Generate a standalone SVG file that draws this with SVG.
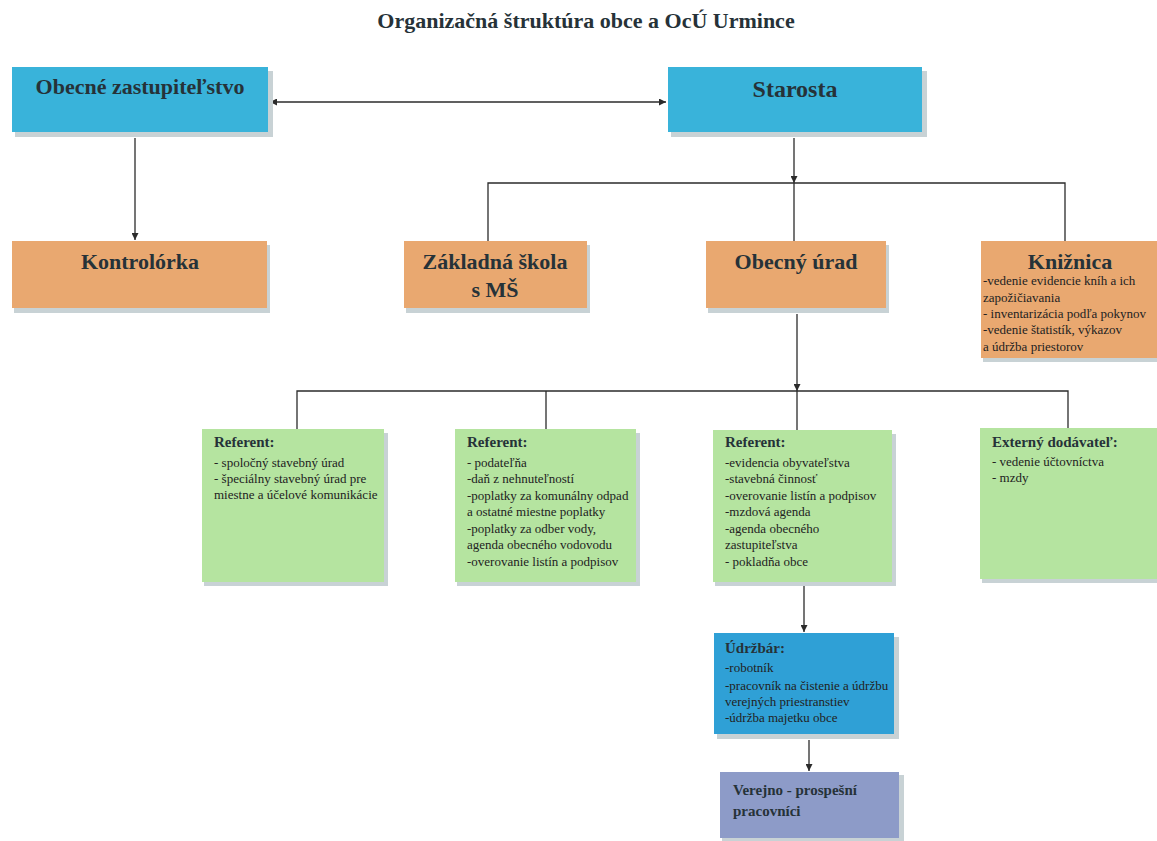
<svg xmlns="http://www.w3.org/2000/svg" width="1157" height="841" viewBox="0 0 1157 841">
<defs>
<marker id="arr" viewBox="0 0 10 10" refX="10" refY="5" markerWidth="7" markerHeight="7" markerUnits="userSpaceOnUse" orient="auto-start-reverse">
<path d="M0,0 L10,5 L0,10 z" fill="#2b2b2b"/>
</marker>
<style>
.bg{fill:#ffffff}
.sh{fill:#c8d2d5}
.blue{fill:#39B3DA}
.orange{fill:#E9A870}
.green{fill:#B5E4A0}
.dblue{fill:#2FA0D6}
.purple{fill:#8D9BC8}
.ttl{font-family:"Liberation Serif","Times New Roman",serif;font-weight:bold;fill:#263238}
.big{font-size:22px;text-anchor:middle}
.hd{font-size:15px}
.sm{font-family:"Liberation Serif","Times New Roman",serif;font-size:13px;fill:#222222}
.ln{stroke:#2b2b2b;stroke-width:1.3;fill:none}
</style>
</defs>
<rect class="bg" x="0" y="0" width="1157" height="841"/>
<text x="586" y="28" class="ttl" font-size="22" text-anchor="middle" fill="#222">Organizačná štruktúra obce a OcÚ Urmince</text>

<g id="connectors">
<line class="ln" x1="270" y1="102" x2="666" y2="102" marker-start="url(#arr)" marker-end="url(#arr)"/>
<line class="ln" x1="135" y1="138" x2="135" y2="240" marker-end="url(#arr)"/>
<line class="ln" x1="794" y1="138" x2="794" y2="183" marker-end="url(#arr)"/>
<polyline class="ln" points="488,241 488,183 1065,183 1065,241"/>
<line class="ln" x1="794" y1="183" x2="794" y2="241"/>
<line class="ln" x1="797" y1="314" x2="797" y2="391" marker-end="url(#arr)"/>
<polyline class="ln" points="297,429 297,391 1068,391 1068,428"/>
<line class="ln" x1="546" y1="391" x2="546" y2="429"/>
<line class="ln" x1="797" y1="391" x2="797" y2="430"/>
<line class="ln" x1="804" y1="586" x2="804" y2="632" marker-end="url(#arr)"/>
<line class="ln" x1="809" y1="740" x2="809" y2="771" marker-end="url(#arr)"/>
</g>

<g id="zastupitelstvo">
<rect class="sh" x="15" y="71" width="258" height="66"/>
<rect class="blue" x="12" y="67" width="256" height="65"/>
<text class="ttl big" x="140" y="94">Obecné zastupiteľstvo</text>
</g>

<g id="starosta">
<rect class="sh" x="671" y="71" width="256" height="66"/>
<rect class="blue" x="668" y="67" width="254" height="65"/>
<text class="ttl" x="795" y="97" font-size="24" text-anchor="middle">Starosta</text>
</g>

<g id="kontrolorka">
<rect class="sh" x="14" y="245" width="256" height="68"/>
<rect class="orange" x="12" y="241" width="255" height="67"/>
<text class="ttl big" x="140" y="269">Kontrolórka</text>
</g>

<g id="zakladna-skola">
<rect class="sh" x="406" y="245" width="184" height="68"/>
<rect class="orange" x="404" y="241" width="183" height="67"/>
<text class="ttl big" x="495" y="269">Základná škola</text>
<text class="ttl big" x="495" y="297">s MŠ</text>
</g>

<g id="obecny-urad">
<rect class="sh" x="708" y="245" width="181" height="68"/>
<rect class="orange" x="706" y="241" width="180" height="67"/>
<text class="ttl big" x="796" y="269">Obecný úrad</text>
</g>

<g id="kniznica">
<rect class="sh" x="983" y="245" width="180" height="117"/>
<rect class="orange" x="981" y="241" width="180" height="117"/>
<text class="ttl big" x="1070" y="269">Knižnica</text>
<text class="sm" x="983" y="285">-vedenie evidencie kníh  a ich</text>
<text class="sm" x="983" y="302">zapožičiavania</text>
<text class="sm" x="983" y="318">- inventarizácia podľa pokynov</text>
<text class="sm" x="983" y="334">-vedenie štatistík, výkazov</text>
<text class="sm" x="983" y="351">a údržba priestorov</text>
</g>

<g id="referent-1">
<rect class="sh" x="204" y="433" width="184" height="153"/>
<rect class="green" x="202" y="429" width="182" height="153"/>
<text class="ttl hd" x="214" y="447">Referent:</text>
<text class="sm" x="214" y="467">- spoločný stavebný úrad</text>
<text class="sm" x="214" y="483">- špeciálny stavebný úrad pre</text>
<text class="sm" x="214" y="499">miestne a účelové komunikácie</text>
</g>

<g id="referent-2">
<rect class="sh" x="457" y="433" width="183" height="153"/>
<rect class="green" x="455" y="429" width="181" height="153"/>
<text class="ttl hd" x="467" y="447">Referent:</text>
<text class="sm" x="467" y="467">- podateľňa</text>
<text class="sm" x="467" y="483">-daň z nehnuteľností</text>
<text class="sm" x="467" y="500">-poplatky za komunálny odpad</text>
<text class="sm" x="467" y="516">a ostatné miestne poplatky</text>
<text class="sm" x="467" y="533">-poplatky za odber vody,</text>
<text class="sm" x="467" y="549">agenda obecného vodovodu</text>
<text class="sm" x="467" y="566">-overovanie listín a podpisov</text>
</g>

<g id="referent-3">
<rect class="sh" x="715" y="434" width="181" height="152"/>
<rect class="green" x="713" y="430" width="179" height="152"/>
<text class="ttl hd" x="725" y="447">Referent:</text>
<text class="sm" x="725" y="467">-evidencia obyvateľstva</text>
<text class="sm" x="725" y="483">-stavebná činnosť</text>
<text class="sm" x="725" y="500">-overovanie listín a podpisov</text>
<text class="sm" x="725" y="516">-mzdová  agenda</text>
<text class="sm" x="725" y="533">-agenda obecného</text>
<text class="sm" x="725" y="549">zastupiteľstva</text>
<text class="sm" x="725" y="566">- pokladňa obce</text>
</g>

<g id="externy-dodavatel">
<rect class="sh" x="982" y="432" width="180" height="151"/>
<rect class="green" x="980" y="428" width="180" height="151"/>
<text class="ttl hd" x="992" y="447">Externý dodávateľ:</text>
<text class="sm" x="992" y="466">- vedenie účtovníctva</text>
<text class="sm" x="992" y="482">- mzdy</text>
</g>

<g id="udrzbar">
<rect class="sh" x="717" y="637" width="182" height="102"/>
<rect class="dblue" x="714" y="633" width="180" height="101"/>
<text class="ttl hd" x="725" y="653">Údržbár:</text>
<text class="sm" x="725" y="672" fill="#243040">-robotník</text>
<text class="sm" x="725" y="690" fill="#243040">-pracovník na čistenie a údržbu</text>
<text class="sm" x="725" y="706" fill="#243040">verejných priestranstiev</text>
<text class="sm" x="725" y="722" fill="#243040">-údržba majetku obce</text>
</g>

<g id="verejno-prospesni">
<rect class="sh" x="722" y="775" width="182" height="66"/>
<rect class="purple" x="720" y="772" width="179" height="66"/>
<text class="ttl hd" x="733" y="795" fill="#2a2a3a">Verejno -  prospešní</text>
<text class="ttl hd" x="733" y="816" fill="#2a2a3a">pracovníci</text>
</g>
</svg>
